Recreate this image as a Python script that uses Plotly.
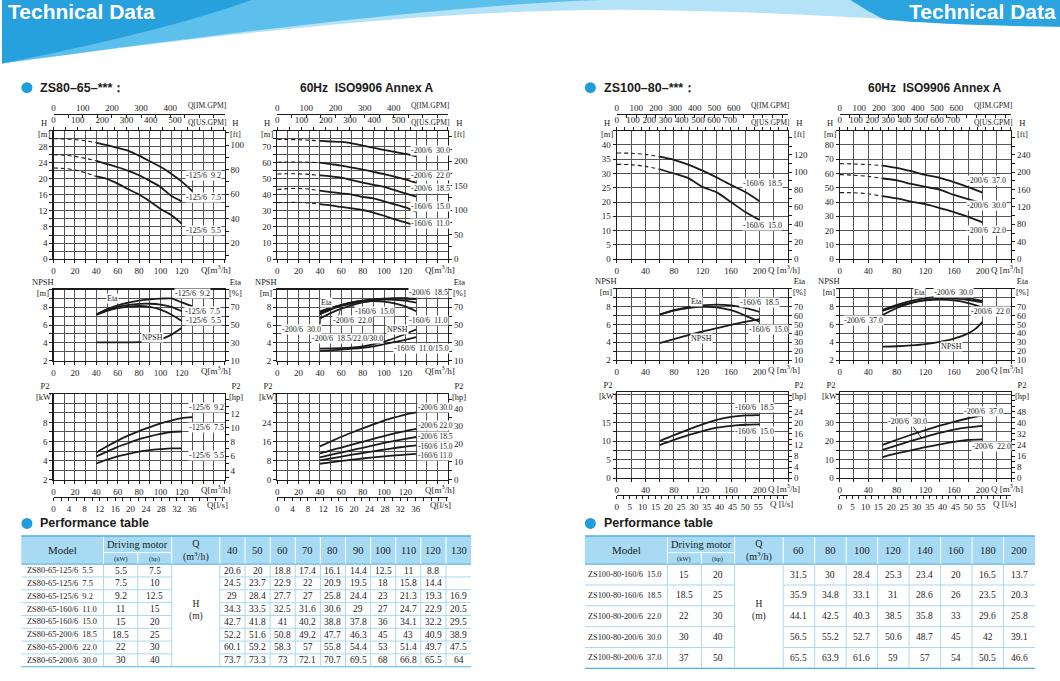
import plotly.graph_objects as go

W, H = 1060, 681
SERIF = "Liberation Serif, DejaVu Serif, serif"
SANS = "Liberation Sans, Arial, sans-serif"
INK = "#1b1b1b"
GRID = "#555555"
BLUE = "#1f9ddc"
NB = "\u00a0"

# unit conversions used by the secondary axes
USGPM = 4.403
IMGPM = 3.666
FT = 3.281
HP = 1.341
LS = 1 / 3.6

# ---------------------------------------------------------------- data
# Performance table 1 : ZS80-65
t1_q = [40, 50, 60, 70, 80, 90, 100, 110, 120, 130]
t1_models = ["ZS80-65-125/6  5.5", "ZS80-65-125/6  7.5", "ZS80-65-125/6  9.2",
             "ZS80-65-160/6  11.0", "ZS80-65-160/6  15.0", "ZS80-65-200/6  18.5",
             "ZS80-65-200/6  22.0", "ZS80-65-200/6  30.0"]
t1_kw = ["5.5", "7.5", "9.2", "11", "15", "18.5", "22", "30"]
t1_hp = ["7.5", "10", "12.5", "15", "20", "25", "30", "40"]
t1_h = [
    [20.6, 20, 18.8, 17.4, 16.1, 14.4, 12.5, 11, 8.8, None],
    [24.5, 23.7, 22.9, 22, 20.9, 19.5, 18, 15.8, 14.4, None],
    [29, 28.4, 27.7, 27, 25.8, 24.4, 23, 21.3, 19.3, 16.9],
    [34.3, 33.5, 32.5, 31.6, 30.6, 29, 27, 24.7, 22.9, 20.5],
    [42.7, 41.8, 41, 40.2, 38.8, 37.8, 36, 34.1, 32.2, 29.5],
    [52.2, 51.6, 50.8, 49.2, 47.7, 46.3, 45, 43, 40.9, 38.9],
    [60.1, 59.2, 58.3, 57, 55.8, 54.4, 53, 51.4, 49.7, 47.5],
    [73.7, 73.3, 73, 72.1, 70.7, 69.5, 68, 66.8, 65.5, 64],
]

# Performance table 2 : ZS100-80
t2_q = [60, 80, 100, 120, 140, 160, 180, 200]
t2_models = ["ZS100-80-160/6  15.0", "ZS100-80-160/6  18.5", "ZS100-80-200/6  22.0",
             "ZS100-80-200/6  30.0", "ZS100-80-200/6  37.0"]
t2_kw = ["15", "18.5", "22", "30", "37"]
t2_hp = ["20", "25", "30", "40", "50"]
t2_h = [
    [31.5, 30, 28.4, 25.3, 23.4, 20, 16.5, 13.7],
    [35.9, 34.8, 33.1, 31, 28.6, 26, 23.5, 20.3],
    [44.1, 42.5, 40.3, 38.5, 35.8, 33, 29.6, 25.8],
    [56.5, 55.2, 52.7, 50.6, 48.7, 45, 42, 39.1],
    [65.5, 63.9, 61.6, 59, 57, 54, 50.5, 46.6],
]

# dashed (low-flow) parts of the H-Q curves
dash_q1 = [0, 10, 20, 30, 40]
a1_dash = {"5.5": [22.7, 22.6, 22.2, 21.5, 20.6],
           "7.5": [26.0, 25.9, 25.6, 25.1, 24.5],
           "9.2": [30.0, 29.95, 29.8, 29.5, 29.0]}
a2_dash = {"11.0": [35.2, 35.3, 35.3, 35.0, 34.3],
           "15.0": [43.4, 43.9, 44.0, 43.6, 42.7],
           "18.5": [53.0, 53.2, 53.1, 52.8, 52.2],
           "22.0": [60.4, 60.5, 60.5, 60.4, 60.1],
           "30.0": [74.5, 74.5, 74.4, 74.1, 73.7]}
dash_q2 = [0, 20, 40, 60]
d1_dash = {"15.0": [33.2, 33.1, 32.5, 31.5],
           "18.5": [37.2, 37.1, 36.7, 35.9]}
d2_dash = {"22.0": [46.6, 46.5, 45.8, 44.1],
           "30.0": [59.2, 58.8, 58.0, 56.5],
           "37.0": [66.9, 66.7, 66.3, 65.5]}

# efficiency [%] and NPSH [m]
b1_q = [40, 50, 60, 70, 80, 90, 100, 110, 120, 130]
b1_eta = {"9.2": [62, 68, 72.2, 75.3, 77.5, 79, 79.8, 80, 75.5, 71],
          "7.5": [62, 67, 70.5, 72.7, 73.9, 74, 73, 70.4, 65.6],
          "5.5": [61.5, 66, 69, 70.8, 71.5, 70.5, 67.5, 62, 54.5]}
b1_npsh_q = [40, 60, 80, 90, 100, 110, 120]
b1_npsh = [4.05, 4.05, 4.08, 4.15, 4.4, 4.9, 5.7]

b2_q = [40, 50, 60, 70, 80, 90, 100, 110, 120, 130]
b2_eta = {"11.0": [65.5, 69.5, 72.5, 75, 76.5, 77, 76.5, 74.5, 71, 65.6],
          "15.0": [64.5, 69, 72.5, 75.5, 77.5, 78.5, 79, 78.5, 77.5, 75.2],
          "18.5": [63.5, 68.5, 72.5, 75.5, 77.5, 79, 79.8, 80, 80, 79.6],
          "22.0": [62, 67.5, 71.5, 74.5, 77, 78.5, 79.5, 80, 79.8, 79.4],
          "30.0": [57.4, 63.5, 68.5, 72.5, 75.5, 77.5, 79, 79.8, 80, 79.8]}
b2_npsh_q = [40, 60, 80, 90, 100, 110, 120, 130]
b2_npsh_200 = [3.35, 3.4, 3.6, 3.85, 4.15, 4.55, 5.0, 5.5]
b2_npsh_160 = [3.1, 3.25, 3.45, 3.6, 3.85, 4.1, 4.35, 4.65]

e_q = [60, 80, 100, 120, 140, 160, 180, 200]
e1_eta = {"18.5": [61, 66, 69.5, 71.5, 72.3, 71.5, 68.5, 64],
          "15.0": [61, 65.5, 68.5, 69.8, 69.2, 66, 60, 53]}
e1_npsh = [3.9, 4.35, 4.8, 5.2, 5.6, 5.95, 6.3, 6.6]
e2_eta = {"30.0": [66.3, 72, 76.5, 79.5, 81, 81, 79.5, 76.5],
          "37.0": [60.7, 68.5, 74, 77.5, 79, 79, 77.5, 75],
          "22.0": [65.2, 70.5, 74.5, 77, 78, 77, 74, 69]}
e2_npsh_q = [60, 80, 100, 120, 140, 160, 180, 190, 200]
e2_npsh = [3.5, 3.55, 3.65, 3.8, 4.05, 4.4, 5.0, 5.5, 6.3]

# shaft power P2 [kW]
c1_q = [40, 50, 60, 70, 80, 90, 100, 110, 120, 130]
c1_p2 = {"9.2": [4.85, 5.5, 6.1, 6.65, 7.1, 7.5, 7.9, 8.2, 8.45, 8.55],
         "7.5": [4.45, 4.95, 5.45, 5.85, 6.25, 6.55, 6.8, 7.0, 7.05],
         "5.5": [3.7, 4.1, 4.45, 4.7, 4.95, 5.1, 5.2, 5.28, 5.28]}
c2_q = [40, 50, 60, 70, 80, 90, 100, 110, 120, 130]
c2_p2 = {"30.0": [14, 16, 18, 19.8, 21.5, 23.2, 24.8, 26.1, 27.3, 28.2],
         "22.0": [11, 12.3, 13.5, 14.7, 15.9, 17.1, 18.3, 19.4, 20.4, 21.3],
         "18.5": [9.4, 10.4, 11.4, 12.4, 13.4, 14.4, 15.4, 16.3, 17.1, 17.9],
         "15.0": [8.1, 8.9, 9.7, 10.5, 11.2, 11.9, 12.6, 13.3, 13.9, 14.4],
         "11.0": [6.7, 7.3, 7.9, 8.4, 8.9, 9.4, 9.8, 10.2, 10.5, 10.8]}
f_q = [60, 80, 100, 120, 140, 160, 180, 200]
f1_p2 = {"18.5": [10, 11.6, 13.1, 14.5, 15.7, 16.5, 16.9, 17.0],
         "15.0": [8.9, 10.3, 11.6, 12.7, 13.6, 14.1, 14.4, 14.5]}
f2_p2 = {"37.0": [17.9, 20.7, 23.4, 25.9, 28.3, 30.4, 32.3, 33.9],
         "30.0": [15.2, 17.7, 20.1, 22.3, 24.4, 26.2, 27.4, 28.2],
         "22.0": [11.4, 13.3, 15.0, 16.7, 18.2, 19.6, 20.6, 20.9]}

# tick labels
q_lab_small = [0, 20, 40, 60, 80, 100, 120]
q_lab_big = [0, 40, 80, 120, 160, 200]
usgpm_lab_small = [0, 100, 200, 300, 400, 500]
imgpm_lab_small = [0, 100, 200, 300, 400]
usgpm_lab_big = [0, 100, 200, 300, 400, 500, 600, 700]
imgpm_lab_big = [0, 100, 200, 300, 400, 500, 600]
ls_lab_small = [0, 4, 8, 12, 16, 20, 24, 28, 32, 36]
ls_lab_big = [0, 5, 10, 15, 20, 25, 30, 35, 40, 45, 50, 55]

# ---------------------------------------------------------------- helpers
def px(x):
    return x / W


def py(y):
    return 1 - y / H


fig = go.Figure()
lay = {}
annots = []
shapes = []
cnt = {"x": 0, "y": 0}
TICKF = dict(family=SERIF, size=9, color=INK)


def new_ax(kind):
    cnt[kind] += 1
    n = cnt[kind]
    return (f"{kind}axis" if n == 1 else f"{kind}axis{n}"), (kind if n == 1 else f"{kind}{n}")


def tick_arrays(start, stop, step, labels):
    vals = []
    k = 0
    while start + k * step <= stop + 1e-9:
        vals.append(round(start + k * step, 6))
        k += 1
    lab_ = set(round(l, 6) for l in labels)
    txt = [(f"{v:g}" if round(v, 6) in lab_ else "") for v in vals]
    return vals, txt


def dummy(xid, yid):
    fig.add_trace(go.Scatter(x=[None], y=[None], xaxis=xid, yaxis=yid, mode="lines",
                             showlegend=False, hoverinfo="skip"))


def panel(box, xr, yr, xstep, ystep, xlabels, ylabels):
    x0, y0, x1, y1 = box
    xa, xid = new_ax("x")
    ya, yid = new_ax("y")
    xv, xt = tick_arrays(xr[0], xr[1], xstep, xlabels)
    yv, yt = tick_arrays(yr[0], yr[1], ystep, ylabels)
    common = dict(showgrid=True, gridcolor=GRID, gridwidth=1, showline=True, linecolor=INK,
                  linewidth=1.2, mirror=True, ticks="outside", ticklen=3, tickwidth=1,
                  tickcolor=INK, tickfont=TICKF, zeroline=False, fixedrange=True,
                  tickmode="array", tickangle=0)
    lay[xa] = dict(domain=[px(x0), px(x1)], range=list(xr), anchor=yid, tickvals=xv,
                   ticktext=xt, **common)
    lay[ya] = dict(domain=[py(y1), py(y0)], range=list(yr), anchor=xid, tickvals=yv,
                   ticktext=yt, **common)
    return xid, yid


def right_axis(xid, yid, rng, start, step, labels):
    ya, nid = new_ax("y")
    v, t = tick_arrays(start, rng[1], step, labels)
    lay[ya] = dict(overlaying=yid, side="right", anchor=xid, range=list(rng), tickmode="array",
                   tickvals=v, ticktext=t, showgrid=False, showline=False, zeroline=False,
                   ticks="outside", ticklen=3, tickcolor=INK, tickfont=TICKF, fixedrange=True,
                   tickangle=0)
    dummy(xid, nid)
    return nid


def x_extra(xid, yid, rng, step, labels, side, free_pos=None, ticks="outside"):
    xa, nid = new_ax("x")
    v, t = tick_arrays(rng[0], rng[1], step, labels)
    d = dict(overlaying=xid, side=side, range=list(rng), tickmode="array", tickvals=v,
             ticktext=t, showgrid=False, zeroline=False, ticks=ticks, ticklen=3,
             tickcolor=INK, tickfont=TICKF, fixedrange=True, tickangle=0)
    if free_pos is None:
        d.update(anchor=yid, showline=False)
    else:
        d.update(anchor="free", position=free_pos, showline=True, linecolor=INK, linewidth=1)
    lay[xa] = d
    dummy(nid, yid)
    return nid


def curve(xid, yid, q, v, dash=False):
    pts = [(a, b) for a, b in zip(q, v) if b is not None]
    fig.add_trace(go.Scatter(
        x=[p[0] for p in pts], y=[p[1] for p in pts], xaxis=xid, yaxis=yid, mode="lines",
        line=dict(color=INK, width=1.1 if dash else 1.8, dash="4px,3px" if dash else "solid",
                  shape="spline", smoothing=0.7),
        showlegend=False, hoverinfo="skip"))


def text(x, y, s, size=8, bg="white", xanchor="left", family=SERIF, color=INK, yanchor="middle"):
    annots.append(dict(x=px(x), y=py(y), xref="paper", yref="paper", text=s, showarrow=False,
                       font=dict(family=family, size=size, color=color), xanchor=xanchor,
                       yanchor=yanchor, bgcolor=bg, borderpad=0))


def lab(s):
    return s.replace(" ", NB)


def line(x0, y0, x1, y1, color, width=1):
    shapes.append(dict(type="line", xref="paper", yref="paper", x0=px(x0), y0=py(y0),
                       x1=px(x1), y1=py(y1), line=dict(color=color, width=width)))


def rect(x0, y0, x1, y1, fill):
    shapes.append(dict(type="rect", xref="paper", yref="paper", x0=px(x0), y0=py(y0),
                       x1=px(x1), y1=py(y1), fillcolor=fill, line=dict(width=0)))


def path(cmds, fill):
    out = []
    for c in cmds:
        if c == "Z":
            out.append("Z")
            continue
        op, *nums = c
        pts = []
        for i in range(0, len(nums), 2):
            pts.append(f"{px(nums[i]):.5f},{py(nums[i + 1]):.5f}")
        out.append(op + " ".join(pts))
    shapes.append(dict(type="path", xref="paper", yref="paper", path=" ".join(out),
                       fillcolor=fill, line=dict(width=0)))


def titles(box, left, right, bottom, lx=10, rx=11, qdx=24.5):
    x0, y0, x1, y1 = box
    text(x0 - lx, y0 - 2, left, size=8.5, bg=None, xanchor="center")
    text(x1 + rx, y0 - 2, right, size=8.5, bg=None, xanchor="center")
    text(x1 - qdx, y1 + 9.5, bottom, size=9, bg=None)


# ---------------------------------------------------------------- banner
path([("M", 0, 0), ("L", 1060, 0), ("L", 1060, 27), ("C", 960, 26, 820, 12, 640, 10),
      ("C", 460, 8, 250, 30, 0, 64), "Z"], "#b4e2f6")
path([("M", 0, 0), ("L", 600, 0), ("C", 450, 5, 250, 30, 0, 64), "Z"], "#5dbfec")
path([("M", 0, 0), ("L", 250, 0), ("C", 190, 22, 100, 44, 0, 64), "Z"], "#27a0de")
path([("M", 850, 0), ("L", 1060, 0), ("L", 1060, 27), ("C", 1000, 26.5, 930, 24, 885, 20),
      ("C", 868, 12, 858, 5, 850, 0), "Z"], "#2aa3df")
text(5, 12, "<b>Technical Data</b>", size=21, bg=None, family=SANS, color="white")
text(1057, 12, "<b>Technical Data</b>", size=21, bg=None, xanchor="right", family=SANS,
     color="white")

# section headings
for cx, cy in [(25, 88.3), (589.5, 88.3), (25, 527.3), (589.5, 527.3)]:
    shapes.append(dict(type="circle", xref="paper", yref="paper", x0=px(cx - 5.5),
                       x1=px(cx + 5.5), y0=py(cy + 5.5), y1=py(cy - 5.5), fillcolor=BLUE,
                       line=dict(width=0)))
text(37.5, 88.3, "<b>ZS80–65–***：</b>", size=12.5, bg=None, family=SANS)
text(298, 88.3, "<b>60Hz" + NB + NB + "ISO9906 Annex A</b>", size=12, bg=None, family=SANS)
text(602.5, 88.3, "<b>ZS100–80–***：</b>", size=12.5, bg=None, family=SANS)
text(867, 88.3, "<b>60Hz" + NB + NB + "ISO9906 Annex A</b>", size=12, bg=None, family=SANS)
text(37.5, 527.3, "<b>Performance table</b>", size=12.5, bg=None, family=SANS)
text(602.5, 527.3, "<b>Performance table</b>", size=12.5, bg=None, family=SANS)

# ---------------------------------------------------------------- panels
A1 = (51.7, 131.7, 223, 261)
A2 = (275.7, 131.7, 447, 261)
B1 = (51.7, 291.7, 223, 363.3)
B2 = (275.7, 291.7, 447, 363.3)
C1 = (51.7, 396.7, 223, 483.3)
C2 = (275.7, 396.7, 447, 483.3)
D1 = (616, 131.7, 787.6, 261)
D2 = (839.3, 131.7, 1011, 261)
E1 = (616, 291, 787.6, 362.7)
E2 = (839.3, 291, 1011, 362.7)
F1 = (616, 395, 787.6, 481.7)
F2 = (839.3, 395, 1011, 481.7)

IM_POS = py(115)


def h_panel(box, qmax, ymax, ystep, ylabels, ft_rng, ft_start, ft_step, ft_labels, qlabels,
            qstep, us_labels, im_labels, qtitle, qdx):
    xid, yid = panel(box, [0, qmax], [0, ymax], qstep, ystep, qlabels, ylabels)
    right_axis(xid, yid, ft_rng, ft_start, ft_step, ft_labels)
    x_extra(xid, yid, [0, qmax * USGPM], 50, us_labels, "top")
    x_extra(xid, yid, [0, qmax * IMGPM], 50, im_labels, "top", free_pos=IM_POS, ticks="inside")
    x0, y0, x1, y1 = box
    text(x1 + 11, y0 - 2, "H<br>[ft]", size=8.5, bg=None, xanchor="center")
    text(x0 - 10, y0 - 2, "H<br>[m]", size=8.5, bg=None, xanchor="center")
    text(x1 - qdx, y1 + 9.5, qtitle, size=9, bg=None)
    text(x1 - 38, 123, "Q[US.GPM]", size=7.6, bg=None)
    text(x1 - 38, 106.7, "Q[IM.GPM]", size=7.6, bg=None)
    return xid, yid


Q_SMALL = "Q[m<sup>3</sup>/h]"
Q_BIG = "Q [m<sup>3</sup>/h]"

# A1 : ZS80-65-125 H-Q
xa, ya = h_panel(A1, 160, 32, 2, [0, 4, 8, 12, 16, 20, 24, 28], [7.1, 111.8], 10, 10,
                 [20, 40, 60, 80, 100], q_lab_small, 10, usgpm_lab_small, imgpm_lab_small,
                 Q_SMALL, 24.5)
for i, k in enumerate(["5.5", "7.5", "9.2"]):
    curve(xa, ya, dash_q1, a1_dash[k], dash=True)
    curve(xa, ya, t1_q, t1_h[i])
text(183, 176.7, lab("-125/6  9.2"))
text(183, 199.3, lab("-125/6  7.5"))
text(183, 232.3, lab("-125/6  5.5"))

# A2 : ZS80-65-160/200 H-Q
xa, ya = h_panel(A2, 160, 80, 5, [0, 10, 20, 30, 40, 50, 60, 70], [0, 80 * FT], 0, 25,
                 [0, 50, 100, 150, 200], q_lab_small, 10, usgpm_lab_small, imgpm_lab_small,
                 Q_SMALL, 24.5)
for i, k in zip(range(3, 8), ["11.0", "15.0", "18.5", "22.0", "30.0"]):
    curve(xa, ya, dash_q1, a2_dash[k], dash=True)
    curve(xa, ya, t1_q, t1_h[i])
for s, yy in [("-200/6  30.0", 151.7), ("-200/6  22.0", 176.7), ("-200/6  18.5", 190),
              ("-160/6  15.0", 208.3), ("-160/6  11.0", 225)]:
    text(409, yy, lab(s))

# B1 : eta / NPSH 125
xa, ya = panel(B1, [0, 160], [2, 10], 10, 1, q_lab_small, [2, 4, 6, 8])
ye = right_axis(xa, ya, [10, 90], 10, 10, [10, 30, 50, 70])
for k in ["9.2", "7.5", "5.5"]:
    curve(xa, ye, b1_q, b1_eta[k])
curve(xa, ya, b1_npsh_q, b1_npsh)
titles(B1, "NPSH<br>[m]", "Eta<br>[%]", Q_SMALL, lx=11)
text(104, 300.7, "Eta")
text(139, 340, "NPSH")
text(172, 295.7, lab("-125/6  9.2"))
text(182, 314, lab("-125/6  7.5"))
text(183, 323.3, lab("-125/6  5.5"))

# B2 : eta / NPSH 160/200
xa, ya = panel(B2, [0, 160], [2, 10], 10, 1, q_lab_small, [2, 4, 6, 8])
ye = right_axis(xa, ya, [10, 90], 10, 10, [10, 30, 50, 70])
for k in ["11.0", "15.0", "18.5", "22.0", "30.0"]:
    curve(xa, ye, b2_q, b2_eta[k])
curve(xa, ya, b2_npsh_q, b2_npsh_200)
curve(xa, ya, b2_npsh_q, b2_npsh_160)
titles(B2, "NPSH<br>[m]", "Eta<br>[%]", Q_SMALL, lx=11)
line(318.5, 328, 320, 317, INK, 0.8)
line(337, 319, 339, 311.5, INK, 0.8)
line(355, 310.5, 349, 307.5, INK, 0.8)
text(318.5, 305, "Eta")
text(406.5, 295, lab("-200/6  18.5"))
text(353, 314.3, lab("-160/6  15.0"))
text(331, 323.3, lab("-200/6  22.0"))
text(406.5, 323.3, lab("-160/6  11.0"))
text(280, 332.3, lab("-200/6  30.0"))
text(385, 332.3, "NPSH")
text(310, 341, lab("-200/6  18.5/22.0/30.0"))
text(391.5, 350.7, lab("-160/6  11.0/15.0"))

# C1 : P2 125
xa, ya = panel(C1, [0, 160], [2, 11], 10, 1, q_lab_small, [2, 4, 6, 8])
right_axis(xa, ya, [2 * HP, 11 * HP], 3, 1, [4, 6, 8, 10, 12])
x_extra(xa, ya, [0, 160 * LS], 2, ls_lab_small, "bottom", free_pos=py(500.5))
for k in ["9.2", "7.5", "5.5"]:
    curve(xa, ya, c1_q, c1_p2[k])
titles(C1, "P2<br>[kW]", "P2<br>[hp]", Q_SMALL, lx=9)
text(C1[2] - 19, 509, "Q[l/s]", size=9, bg=None)
text(186.5, 411, lab("-125/6  9.2"))
text(186.5, 431, lab("-125/6  7.5"))
text(186.5, 459.3, lab("-125/6  5.5"))

# C2 : P2 160/200
xa, ya = panel(C2, [0, 160], [0, 36], 10, 4, q_lab_small, [0, 8, 16, 24])
right_axis(xa, ya, [0, 36 * HP], 0, 5, [0, 10, 20, 30, 40])
x_extra(xa, ya, [0, 160 * LS], 2, ls_lab_small, "bottom", free_pos=py(500.5))
for k in ["30.0", "22.0", "18.5", "15.0", "11.0"]:
    curve(xa, ya, c2_q, c2_p2[k])
titles(C2, "P2<br>[kW]", "P2<br>[hp]", Q_SMALL, lx=9)
text(C2[2] - 19, 509, "Q[l/s]", size=9, bg=None)
for s, yy in [("-200/6 30.0", 411), ("-200/6 22.0", 429), ("-200/6 18.5", 439.3),
              ("-160/6 15.0", 449.3), ("-160/6 11.0", 459)]:
    text(415.5, yy, lab(s), size=7.5)

# D1 : ZS100-80-160 H-Q
xa, ya = h_panel(D1, 240, 45, 5, [0, 5, 10, 15, 20, 25, 30, 35, 40], [0, 45 * FT], 0, 10,
                 [0, 20, 40, 60, 80, 100, 120], q_lab_big, 20, usgpm_lab_big, imgpm_lab_big,
                 Q_BIG, 21)
for i, k in enumerate(["15.0", "18.5"]):
    curve(xa, ya, dash_q2, d1_dash[k], dash=True)
    curve(xa, ya, t2_q, t2_h[i])
text(741, 185, lab("-160/6  18.5"))
text(741, 226.7, lab("-160/6  15.0"))

# D2 : ZS100-80-200 H-Q
xa, ya = h_panel(D2, 240, 90, 10, [0, 10, 20, 30, 40, 50, 60, 70, 80], [0, 90 * FT], 0, 20,
                 [0, 40, 80, 120, 160, 200, 240], q_lab_big, 20, usgpm_lab_big, imgpm_lab_big,
                 Q_BIG, 21)
for i, k in zip(range(2, 5), ["22.0", "30.0", "37.0"]):
    curve(xa, ya, dash_q2, d2_dash[k], dash=True)
    curve(xa, ya, t2_q, t2_h[i])
text(966, 181.7, lab("-200/6  37.0"))
text(966, 207.3, lab("-200/6  30.0"))
text(966, 232.7, lab("-200/6  22.0"))

# E1 : eta / NPSH 160
xa, ya = panel(E1, [0, 240], [2, 10], 20, 1, q_lab_big, [2, 4, 6, 8])
ye = right_axis(xa, ya, [10, 90], 10, 10, [10, 20, 30, 40, 50, 60, 70])
for k in ["18.5", "15.0"]:
    curve(xa, ye, e_q, e1_eta[k])
curve(xa, ya, e_q, e1_npsh)
titles(E1, "NPSH<br>[m]", "Eta<br>[%]", Q_BIG, lx=11, qdx=21)
text(689, 303.3, "Eta")
text(738, 304.3, lab("-160/6  18.5"))
text(747.5, 331.7, lab("-160/6  15.0"))
text(689, 341, "NPSH")

# E2 : eta / NPSH 200
xa, ya = panel(E2, [0, 240], [2, 10], 20, 1, q_lab_big, [2, 4, 6, 8])
ye = right_axis(xa, ya, [10, 90], 10, 10, [10, 20, 30, 40, 50, 60, 70])
for k in ["30.0", "37.0", "22.0"]:
    curve(xa, ye, e_q, e2_eta[k])
curve(xa, ya, e2_npsh_q, e2_npsh)
titles(E2, "NPSH<br>[m]", "Eta<br>[%]", Q_BIG, lx=11, qdx=21)
text(913, 295, "Eta")
text(933, 295, lab("-200/6  30.0"))
text(970, 314.3, lab("-200/6  22.0"))
text(843, 323.3, lab("-200/6  37.0"))
text(940, 349.3, "NPSH")

# F1 : P2 160
xa, ya = panel(F1, [0, 240], [0, 23.2], 20, 2.5, q_lab_big, [0, 5, 10, 15])
right_axis(xa, ya, [0, 23.2 * HP], 0, 2, [0, 4, 8, 12, 16, 20, 24])
x_extra(xa, ya, [0, 240 * LS], 2.5, ls_lab_big, "bottom", free_pos=py(498.5))
for k in ["18.5", "15.0"]:
    curve(xa, ya, f_q, f1_p2[k])
titles(F1, "P2<br>[kW]", "P2<br>[hp]", Q_BIG, lx=9, qdx=21)
text(F1[2] - 19, 508, "Q [l/s]", size=9, bg=None)
text(733, 410.7, lab("-160/6  18.5"))
text(733, 435, lab("-160/6  15.0"))

# F2 : P2 200
xa, ya = panel(F2, [0, 240], [0, 46.4], 20, 5, q_lab_big, [0, 10, 20, 30])
right_axis(xa, ya, [0, 46.4 * HP], 0, 4, [0, 8, 16, 24, 32, 40, 48])
x_extra(xa, ya, [0, 240 * LS], 2.5, ls_lab_big, "bottom", free_pos=py(498.5))
for k in ["37.0", "30.0", "22.0"]:
    curve(xa, ya, f_q, f2_p2[k])
titles(F2, "P2<br>[kW]", "P2<br>[hp]", Q_BIG, lx=9, qdx=21)
text(F2[2] - 19, 508, "Q [l/s]", size=9, bg=None)
line(913, 430, 921.5, 441.5, INK, 0.9)
text(962.5, 414.3, lab("-200/6  37.0"))
text(886.5, 424.3, lab("-200/6  30.0"))
text(971, 449.3, lab("-200/6  22.0"))

# ---------------------------------------------------------------- tables
HDR = "#a8dbf3"
EDGE = "#4fb0e2"
SEP = "#a9d8f0"


def table(left, fixed_w, q_right, y_top, y_mid, y_hb, row_h, qs, models, kw, hp, hv,
          fs_model, fs_data, pad):
    edges = [left]
    for w_ in fixed_w:
        edges.append(edges[-1] + w_)
    cw = (q_right - edges[-1]) / len(qs)
    for i in range(len(qs)):
        edges.append(edges[4] + (i + 1) * cw)
    xR = edges[-1]
    n = len(models)
    y_bot = y_hb + n * row_h
    rect(left, y_top, xR, y_hb, HDR)
    for j, xe in enumerate(edges[1:-1], start=1):
        if j == 2:
            line(xe, y_mid, xe, y_hb, "white", 1)
        else:
            line(xe, y_top, xe, y_hb, "white", 1)
    line(edges[1], y_mid, edges[3], y_mid, "white", 1)
    line(left, y_top, xR, y_top, EDGE, 1.6)
    line(left, y_hb, xR, y_hb, EDGE, 1)
    for i in range(1, n):
        yy = y_hb + i * row_h
        line(left, yy, edges[3], yy, SEP, 1)
        line(edges[4], yy, xR, yy, SEP, 1)
    line(left, y_bot, xR, y_bot, EDGE, 1.2)
    for xe in edges[1:-1]:
        line(xe, y_hb, xe, y_bot, SEP, 1)
    ymidh = (y_top + y_hb) / 2
    text((edges[0] + edges[1]) / 2, ymidh, "Model", size=11, bg=None, xanchor="center")
    text((edges[1] + edges[3]) / 2, (y_top + y_mid) / 2 + 0.5, "Driving motor", size=10.5,
         bg=None, xanchor="center")
    text((edges[1] + edges[2]) / 2, (y_mid + y_hb) / 2 + 0.5, "(kW)", size=6.5, bg=None,
         xanchor="center")
    text((edges[2] + edges[3]) / 2, (y_mid + y_hb) / 2 + 0.5, "(hp)", size=6.5, bg=None,
         xanchor="center")
    text((edges[3] + edges[4]) / 2, ymidh, "Q<br>(m<sup>3</sup>/h)", size=10, bg=None,
         xanchor="center")
    for i, q in enumerate(qs):
        text((edges[4 + i] + edges[5 + i]) / 2, ymidh, str(q), size=10.5, bg=None,
             xanchor="center")
    text((edges[3] + edges[4]) / 2, 615, "H<br>(m)", size=9.5, bg=None, xanchor="center")
    for r in range(n):
        yc = y_hb + (r + 0.5) * row_h
        text(edges[0] + pad, yc, lab(models[r]), size=fs_model, bg=None)
        text((edges[1] + edges[2]) / 2, yc, kw[r], size=fs_data, bg=None, xanchor="center")
        text((edges[2] + edges[3]) / 2, yc, hp[r], size=fs_data, bg=None, xanchor="center")
        for i, v in enumerate(hv[r]):
            if v is None:
                continue
            text((edges[4 + i] + edges[5 + i]) / 2, yc, f"{v:g}", size=fs_data, bg=None,
                 xanchor="center")


table(19.3, [82.4, 34.3, 34, 48.3], 470, 540, 556.7, 568.3, 12.92, t1_q, t1_models, t1_kw,
      t1_hp, t1_h, 8.4, 9.5, 5)
table(584, [82.7, 34, 33.3, 48.7], 1035, 540, 556.7, 568.3, 21, t2_q, t2_models, t2_kw,
      t2_hp, t2_h, 8.3, 9.5, 2.5)

# ---------------------------------------------------------------- layout
fig.update_layout(lay)
fig.update_layout(width=W, height=H, margin=dict(l=0, r=0, t=0, b=0), autosize=False,
                  paper_bgcolor="white", plot_bgcolor="white", showlegend=False,
                  annotations=annots, shapes=shapes)
fig.write_html("out.html", config={"displayModeBar": False, "staticPlot": True})
